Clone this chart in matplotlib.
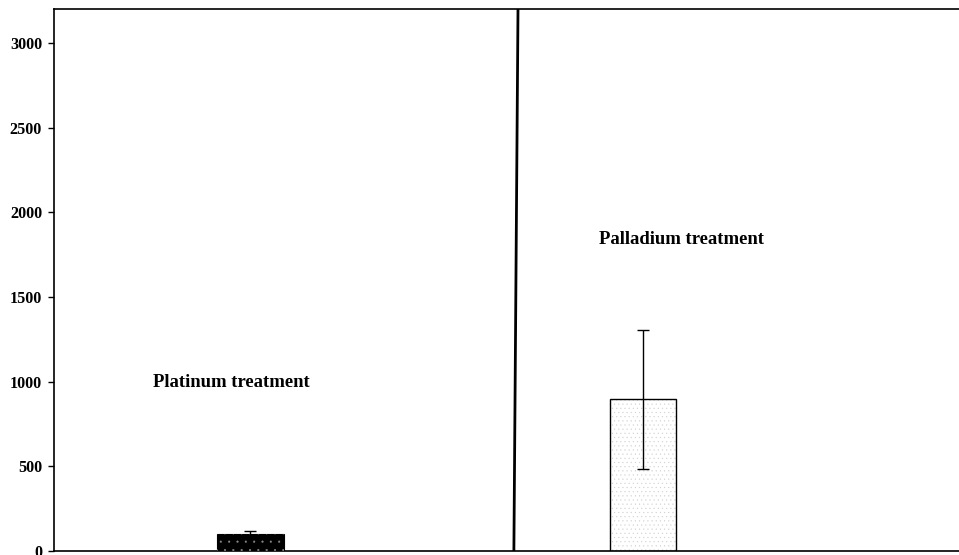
import matplotlib
matplotlib.use("Agg")
import matplotlib.pyplot as plt

# Mean concentrations with standard deviations for each treatment
treatments = ["Platinum treatment", "Palladium treatment"]
means = [100, 895]
errors = [20, 410]
yticks = [0, 500, 1000, 1500, 2000, 2500, 3000]

plt.rcParams["font.family"] = ["Liberation Serif", "DejaVu Serif"]
plt.rcParams["hatch.linewidth"] = 0.3

fig = plt.figure(figsize=(9.59, 5.55), dpi=100)
ax = fig.add_axes([54 / 959, 4 / 555, 905 / 959, 542 / 555])

xpos = [0, 1]
width = 0.17

# Platinum: black bar with a faint dotted pattern
ax.bar(xpos[0], means[0], width, color="black", edgecolor="black", linewidth=0.8, zorder=2)
ax.bar(xpos[0], means[0], width, facecolor="none", edgecolor="#8a8a8a", hatch="..",
       linewidth=0, zorder=3)
# Palladium: white bar with light grey stipple
ax.bar(xpos[1], means[1], width, color="white", edgecolor="#d0d0d0", hatch="....",
       linewidth=0, zorder=2)
ax.bar(xpos[1], means[1], width, facecolor="none", edgecolor="black", linewidth=1.0, zorder=3)

ax.errorbar(xpos, means, yerr=errors, fmt="none", ecolor="black", elinewidth=1.0,
            capsize=4, capthick=1.0, zorder=4)

# Divider between the two treatment panels
ax.plot([0.671, 0.6815], [0, 3200], color="black", linewidth=2.0, zorder=5)

ax.text(-0.048, 992, treatments[0], ha="center", va="center", fontsize=13.4, fontweight="bold")
ax.text(1.099, 1842, treatments[1], ha="center", va="center", fontsize=13.4, fontweight="bold")

ax.set_xlim(-0.5006, 1.805)
ax.set_ylim(0, 3200)
ax.set_yticks(yticks)
ax.set_yticklabels([str(t) for t in yticks], fontsize=11.6, fontweight="bold")
ax.set_xticks([])
ax.tick_params(axis="y", direction="out", length=4.3, width=1.0, pad=4.3)
ax.spines["right"].set_visible(False)
for s in ["left", "top", "bottom"]:
    ax.spines[s].set_linewidth(1.2)

fig.savefig("out.png", dpi=100)
